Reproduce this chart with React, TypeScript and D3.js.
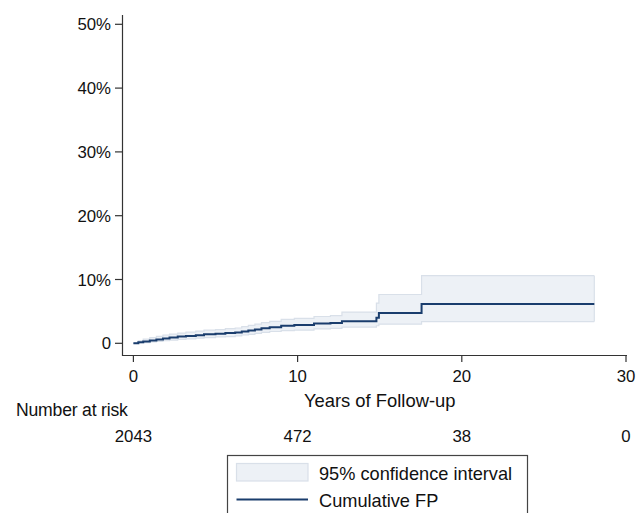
import React from "react";
import * as d3 from "d3";

const times = [0, 0.3, 0.6, 1.0, 1.4, 1.8, 2.2, 2.7, 3.2, 3.8, 4.3, 5.0, 5.6, 6.2, 6.6, 7.0, 7.4, 7.8, 8.3, 9.0, 9.8, 11.0, 12.0, 12.7, 14.8, 14.95, 17.55, 28.07];
const cumFP = [0, 0.15, 0.3, 0.45, 0.6, 0.75, 0.9, 1.05, 1.15, 1.25, 1.4, 1.5, 1.6, 1.7, 1.85, 2.0, 2.15, 2.35, 2.5, 2.75, 2.85, 3.1, 3.2, 3.45, 4.0, 4.75, 6.15, 6.15];
const upperCI = [0, 0.4, 0.65, 0.9, 1.1, 1.3, 1.45, 1.6, 1.75, 1.9, 2.05, 2.15, 2.3, 2.4, 2.6, 2.8, 3.0, 3.25, 3.45, 3.75, 3.9, 4.2, 4.35, 4.9, 6.3, 7.65, 10.6, 10.6];
const lowerCI = [0, 0.05, 0.1, 0.2, 0.3, 0.4, 0.5, 0.6, 0.7, 0.8, 0.9, 1.0, 1.05, 1.15, 1.3, 1.4, 1.55, 1.7, 1.85, 2.0, 2.05, 2.25, 2.35, 2.55, 2.75, 3.0, 3.4, 3.4];

const xTicks = [0, 10, 20, 30];
const yTicks = [0, 10, 20, 30, 40, 50];
const yTickLabels = ["0", "10%", "20%", "30%", "40%", "50%"];
const atRisk = ["2043", "472", "38", "0"];

const FONT = "'Liberation Sans', Arial, Helvetica, sans-serif";

export default function App() {
  const x = d3.scaleLinear().domain([0, 30]).range([133.4, 626]);
  const y = d3.scaleLinear().domain([0, 50]).range([343.3, 24.3]);
  const idx = times.map((_, i) => i);

  const area = d3
    .area<number>()
    .x((i) => x(times[i]))
    .y0((i) => y(lowerCI[i]))
    .y1((i) => y(upperCI[i]))
    .curve(d3.curveStepAfter);
  const upperLine = d3.line<number>().x((i) => x(times[i])).y((i) => y(upperCI[i])).curve(d3.curveStepAfter);
  const lowerLine = d3.line<number>().x((i) => x(times[i])).y((i) => y(lowerCI[i])).curve(d3.curveStepAfter);
  const line = d3.line<number>().x((i) => x(times[i])).y((i) => y(cumFP[i])).curve(d3.curveStepAfter);

  const axisColor = "#333";
  const bandFill = "#edf1f6";
  const bandEdge = "#d9e0e9";
  const lineColor = "#1a3d6d";

  return (
    <svg
      width={638}
      height={513}
      style={{ position: "fixed", left: 0, top: 0, background: "#fff", fontFamily: FONT }}
    >
      <rect x={0} y={0} width={638} height={513} fill="#fff" />
      {/* CI band */}
      <path d={area(idx) || ""} fill={bandFill} stroke="none" />
      <path d={upperLine(idx) || ""} fill="none" stroke={bandEdge} strokeWidth={1.2} />
      <path d={lowerLine(idx) || ""} fill="none" stroke={bandEdge} strokeWidth={1.2} />
      <line x1={x(times[times.length - 1])} x2={x(times[times.length - 1])} y1={y(upperCI[upperCI.length - 1])} y2={y(lowerCI[lowerCI.length - 1])} stroke={bandEdge} strokeWidth={1.2} />
      {/* cumulative line */}
      <path d={line(idx) || ""} fill="none" stroke={lineColor} strokeWidth={2} />

      {/* Y axis */}
      <line x1={122.5} x2={122.5} y1={15} y2={356} stroke={axisColor} strokeWidth={1.2} />
      {yTicks.map((t, i) => (
        <g key={"y" + t}>
          <line x1={115} x2={122.5} y1={y(t)} y2={y(t)} stroke={axisColor} strokeWidth={1.2} />
          <text x={111} y={y(t) + 6} textAnchor="end" fontSize={16.8} fill="#111">
            {yTickLabels[i]}
          </text>
        </g>
      ))}

      {/* X axis */}
      <line x1={122} x2={627} y1={355.5} y2={355.5} stroke={axisColor} strokeWidth={1.2} />
      {xTicks.map((t) => (
        <g key={"x" + t}>
          <line x1={x(t)} x2={x(t)} y1={355.5} y2={362} stroke={axisColor} strokeWidth={1.2} />
          <text x={x(t)} y={382} textAnchor="middle" fontSize={16.8} fill="#111">
            {t}
          </text>
        </g>
      ))}
      <text x={(x(0) + x(30)) / 2} y={407} textAnchor="middle" fontSize={18.4} fill="#111">
        Years of Follow-up
      </text>

      {/* Number at risk */}
      <text x={16} y={416} fontSize={17.6} fill="#111" letterSpacing={-0.2}>
        Number at risk
      </text>
      {xTicks.map((t, i) => (
        <text key={"r" + t} x={x(t)} y={441.5} textAnchor="middle" fontSize={16.8} fill="#111">
          {atRisk[i]}
        </text>
      ))}

      {/* Legend */}
      <rect x={227.5} y={455.5} width={300} height={80} fill="#fff" stroke="#444" strokeWidth={1.2} />
      <rect x={236.5} y={463.5} width={71.5} height={17.5} fill={bandFill} stroke={bandEdge} strokeWidth={1.2} />
      <text x={319} y={480} fontSize={18.2} fill="#111">
        95% confidence interval
      </text>
      <line x1={236.5} x2={308} y1={499.5} y2={499.5} stroke={lineColor} strokeWidth={2} />
      <text x={319} y={507} fontSize={18.2} fill="#111">
        Cumulative FP
      </text>
    </svg>
  );
}
